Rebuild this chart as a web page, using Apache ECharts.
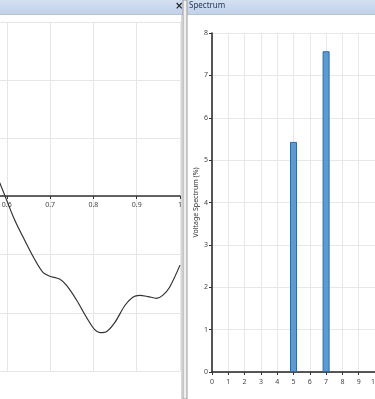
<!DOCTYPE html>
<html><head><meta charset="utf-8">
<style>html,body{margin:0;padding:0;background:#fff;}#c{width:375px;height:399px;}</style>
<script src="https://cdn.jsdelivr.net/npm/echarts@6/dist/echarts.min.js"></script>
</head><body><div id="c"></div>
<script>
// Left panel waveform (time axis fraction, arbitrary units)
const waveX = [0.565, 0.5845, 0.6185, 0.6415, 0.662, 0.683, 0.699, 0.722, 0.738, 0.761, 0.785, 0.803, 0.815, 0.831, 0.850, 0.873, 0.891, 0.907, 0.926, 0.946, 0.960, 0.976, 1.0];
const waveY = [0.55, 0.22, -0.41, -0.755, -1.05, -1.30, -1.37, -1.42, -1.53, -1.78, -2.09, -2.29, -2.34, -2.32, -2.16, -1.87, -1.73, -1.70, -1.72, -1.75, -1.70, -1.56, -1.18];
// Spectrum bars
const harmonics = [5, 7];
const spectrum = [5.43, 7.57];
const panelTitle = "Spectrum";
const yTitle = "Voltage Spectrum (%)";

const chart = echarts.init(document.getElementById('c'), null, {renderer: 'canvas'});
const lab = {fontSize: 7, color: '#444', fontFamily: 'Noto Sans'};
chart.setOption({
  animation: false,
  backgroundColor: '#fff',
  graphic: [
    {type: 'rect', shape: {x: 0, y: 0, width: 375, height: 14}, silent: true,
     style: {fill: new echarts.graphic.LinearGradient(0, 0, 0, 1, [{offset: 0, color: '#d3e0f0'}, {offset: 1, color: '#c0d2ea'}])}},
    {type: 'rect', shape: {x: 0, y: 14, width: 375, height: 1}, silent: true, style: {fill: '#b9c4d2'}},
    {type: 'rect', shape: {x: 183, y: 0, width: 4, height: 399}, silent: true, style: {fill: '#f0f0f0', stroke: '#9a9a9a', lineWidth: 1}},
    {type: 'rect', shape: {x: 181, y: 15, width: 1, height: 384}, silent: true, style: {fill: '#d8d8d8'}},
    {type: 'text', left: 175, top: 1, silent: true, style: {text: '×', fontSize: 10, fontWeight: 'bold', fill: '#222', fontFamily: 'DejaVu Sans'}},
    {type: 'text', left: 189, top: 2, silent: true, style: {text: panelTitle, fontSize: 8, fill: '#1f3555', fontFamily: 'Noto Sans'}}
  ],
  grid: [
    {left: -253, width: 433, top: 22, height: 349, outerBoundsMode: 'none', containLabel: false},
    {left: 212, width: 326, top: 33, height: 339, outerBoundsMode: 'none', containLabel: false}
  ],
  xAxis: [
    {gridIndex: 0, type: 'value', min: 0, max: 1, interval: 0.1, offset: -175,
     axisLine: {onZero: false, lineStyle: {color: '#333', width: 1.5}},
     axisTick: {length: 3, lineStyle: {color: '#333'}},
     axisLabel: Object.assign({margin: 5}, lab),
     splitLine: {lineStyle: {color: '#e6e6e6'}}},
    {gridIndex: 1, type: 'value', min: 0, max: 20, interval: 1,
     axisLine: {lineStyle: {color: '#222', width: 1.5}},
     axisTick: {length: 3, lineStyle: {color: '#333'}},
     axisLabel: Object.assign({margin: 6}, lab),
     splitLine: {lineStyle: {color: '#e8e8e8'}}}
  ],
  yAxis: [
    {gridIndex: 0, type: 'value', min: -3, max: 3, interval: 1,
     axisLine: {show: false}, axisTick: {show: false}, axisLabel: {show: false},
     splitLine: {lineStyle: {color: '#e6e6e6'}}},
    {gridIndex: 1, type: 'value', min: 0, max: 8, interval: 1,
     name: yTitle, nameLocation: 'middle', nameRotate: 90, nameGap: 13, nameMoveOverlap: false,
     nameTextStyle: {fontSize: 7, color: '#333', fontFamily: 'Noto Sans'},
     axisLine: {show: true, lineStyle: {color: '#222', width: 1.5}},
     axisTick: {show: true, length: 3, lineStyle: {color: '#333'}},
     axisLabel: Object.assign({margin: 4}, lab),
     splitLine: {lineStyle: {color: '#e8e8e8'}}}
  ],
  series: [
    {type: 'line', xAxisIndex: 0, yAxisIndex: 0, smooth: 0.3, showSymbol: false,
     lineStyle: {color: '#333', width: 1.2},
     data: waveX.map((x, i) => [x, waveY[i]])},
    {type: 'bar', xAxisIndex: 1, yAxisIndex: 1, barWidth: 7,
     itemStyle: {color: '#5b9bd5', borderColor: '#2e6aa3', borderWidth: 1},
     data: harmonics.map((h, i) => [h, spectrum[i]])}
  ]
});
</script></body></html>
